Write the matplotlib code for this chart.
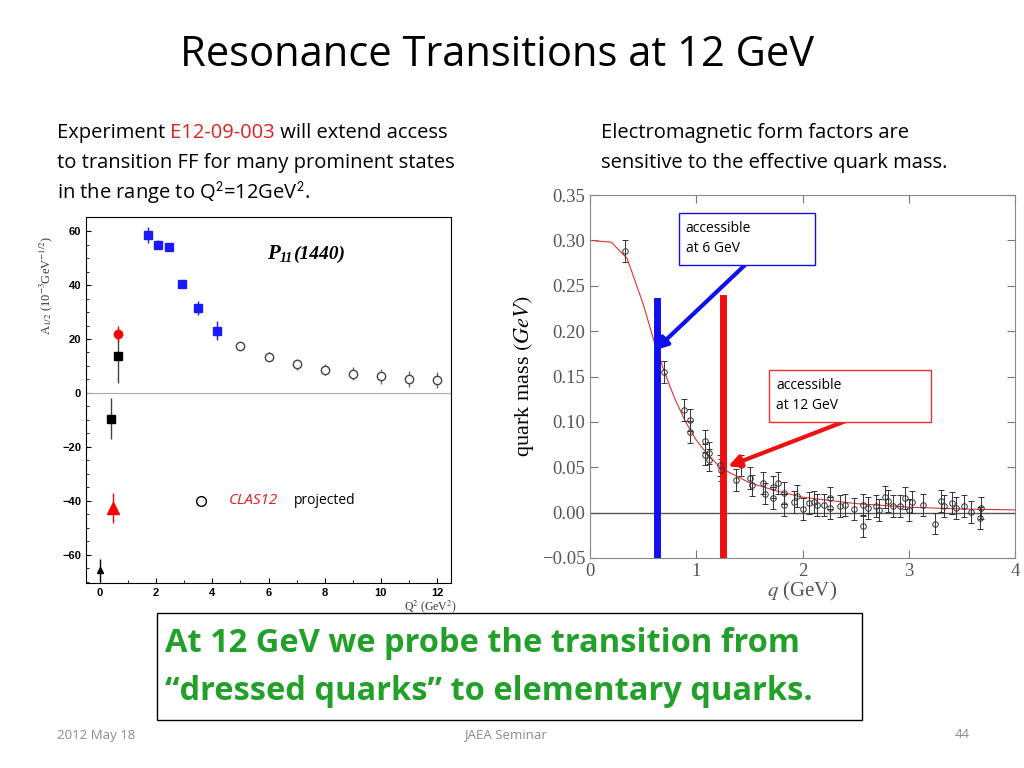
import matplotlib
matplotlib.use("Agg")
import matplotlib.pyplot as plt
from matplotlib.patches import Rectangle

plt.rcParams["mathtext.fontset"] = "stix"

# ---- left panel data ----
blue_q2 = [1.72, 2.05, 2.44, 2.91, 3.48, 4.16]
blue_a = [58.5, 55.0, 54.0, 40.5, 31.5, 23.0]
blue_e = [3.0, 1.5, 1.5, 1.5, 2.5, 3.5]
proj_q2 = [5, 6, 7, 8, 9, 10, 11, 12]
proj_a = [17.5, 13.5, 10.7, 8.7, 7.2, 6.2, 5.3, 4.8]
proj_e = [1.5, 1.8, 2.0, 2.2, 2.5, 2.7, 3.0, 3.0]
redc_q2, redc_a, redc_e = [0.65], [22.0], [3.0]
blks_q2 = [0.65, 0.4]
blks_a = [13.8, -9.5]
blks_e = [10.0, 7.5]
redt_q2, redt_a, redt_e = [0.475], [-42.5], [5.5]
blkt_q2, blkt_a, blkt_e = [0.0], [-65.5], [4.0]

# ---- right panel data ----
curve_q = [0, 0.2, 0.35, 0.5, 0.6, 0.7, 0.8, 0.9, 1.0, 1.1, 1.2, 1.3, 1.5, 1.75, 2.0, 2.5, 3.0, 3.5, 4.0]
curve_m = [0.300, 0.298, 0.280, 0.230, 0.190, 0.155, 0.125, 0.100, 0.080, 0.065, 0.053, 0.045, 0.033, 0.024, 0.017, 0.010, 0.006, 0.004, 0.003]
pts_q = [0.33, 0.70, 0.88, 0.94, 0.94, 1.08, 1.08, 1.12, 1.12, 1.22, 1.23, 1.37, 1.42, 1.51, 1.52, 1.63, 1.65,
         1.72, 1.72, 1.77, 1.83, 1.83, 1.92, 1.95, 2.00, 2.06, 2.11, 2.14, 2.20, 2.26, 2.26, 2.35, 2.40, 2.48,
         2.57, 2.57, 2.62, 2.69, 2.72, 2.78, 2.80, 2.85, 2.92, 2.96, 3.00, 3.03, 3.13, 3.25, 3.30, 3.33, 3.41,
         3.44, 3.52, 3.59, 3.67, 3.68]
pts_m = [0.288, 0.155, 0.113, 0.102, 0.089, 0.079, 0.064, 0.066, 0.058, 0.052, 0.047, 0.036, 0.052, 0.038, 0.030,
         0.033, 0.021, 0.028, 0.016, 0.033, 0.022, 0.008, 0.012, 0.018, 0.004, 0.011, 0.012, 0.008, 0.008, 0.016,
         0.005, 0.007, 0.008, 0.004, 0.008, -0.015, 0.005, 0.007, 0.003, 0.017, 0.013, 0.007, 0.007, 0.016, 0.003,
         0.012, 0.008, -0.012, 0.013, 0.007, 0.011, 0.005, 0.007, 0.001, -0.006, 0.005]
pts_e = [0.012] * len(pts_q)

W, H = 1024, 768
fig = plt.figure(figsize=(10.24, 7.68), dpi=100)
sans = ["Open Sans", "DejaVu Sans"]
renderer = fig.canvas.get_renderer()

def ax_at(x0, y0, x1, y1):
    return fig.add_axes([x0 / W, 1 - y1 / H, (x1 - x0) / W, (y1 - y0) / H])

def chain(x, y, parts, **kw):
    for s, c, dy, f in parts:
        t = fig.text(x / W, 1 - (y + dy) / H, s, color=c, va="center", **kw, **f)
        bb = t.get_window_extent(renderer)
        x += bb.width

fs = 14.5
fig.text(497 / W, 1 - 55 / H, "Resonance Transitions at 12 GeV", ha="center", va="center", fontsize=30, family=sans)
chain(57, 133, [("Experiment ", "black", 0, {}), ("E12-09-003", "#e02020", 0, {}),
                (" will extend access", "black", 0, {})], fontsize=fs, family=sans)
fig.text(57 / W, 1 - 163 / H, "to transition FF for many prominent states", fontsize=fs, family=sans, va="center")
fig.text(57 / W, 1 - 193 / H, r"in the range to Q$^\mathsf{2}$=12GeV$^\mathsf{2}$.", fontsize=fs, family=sans, va="center")
fig.text(601 / W, 1 - 133 / H, "Electromagnetic form factors are", fontsize=fs, family=sans, va="center")
fig.text(601 / W, 1 - 163 / H, "sensitive to the effective quark mass.", fontsize=fs, family=sans, va="center")
fig.text(57 / W, 1 - 735 / H, "2012 May 18", fontsize=9.5, color="#8a8a8a", family=sans, va="center")
fig.text(505 / W, 1 - 735 / H, "JAEA Seminar", fontsize=9.5, color="#8a8a8a", family=sans, va="center", ha="center")
fig.text(955 / W, 1 - 735 / H, "44", fontsize=9.5, color="#8a8a8a", family=sans, va="center")

fig.patches.append(Rectangle((157 / W, 1 - 720 / H), 705 / W, 107 / H, transform=fig.transFigure,
                             facecolor="white", edgecolor="black", lw=1))
fig.text(165 / W, 1 - 644 / H, "At 12 GeV we probe the transition from", fontsize=23.5, weight="bold",
         color="#22a02a", family=sans, va="center")
fig.text(165 / W, 1 - 692 / H, "\u201cdressed quarks\u201d to elementary quarks.", fontsize=23.5, weight="bold",
         color="#22a02a", family=sans, va="center")

# ---- left axes ----
a1 = ax_at(86, 217, 451, 583)
a1.set_xlim(-0.5, 12.5)
a1.set_ylim(-70.4, 65.2)
a1.axhline(0, color="#aaaaaa", lw=0.8)
a1.errorbar(blue_q2, blue_a, yerr=blue_e, fmt="s", color="#1a1aff", ms=6, elinewidth=1)
a1.errorbar(proj_q2, proj_a, yerr=proj_e, fmt="o", mfc="white", mec="#444444", ecolor="#666666", ms=6, elinewidth=1)
a1.errorbar(redc_q2, redc_a, yerr=redc_e, fmt="o", color="red", ms=6, elinewidth=1)
a1.errorbar(blks_q2, blks_a, yerr=blks_e, fmt="s", color="black", ms=6, elinewidth=1, ecolor="#444444")
a1.errorbar(redt_q2, redt_a, yerr=redt_e, fmt="^", color="red", ms=8, elinewidth=1)
a1.errorbar(blkt_q2, blkt_a, yerr=blkt_e, fmt="^", color="black", ms=5, elinewidth=1)
a1.set_xticks([0, 2, 4, 6, 8, 10, 12])
a1.set_yticks([-60, -40, -20, 0, 20, 40, 60])
a1.set_xticks(range(0, 13), minor=True)
a1.set_yticks(range(-70, 65, 5), minor=True)
for lab in a1.get_xticklabels() + a1.get_yticklabels():
    lab.set_fontweight("bold")
    lab.set_fontsize(8)
    lab.set_family("Liberation Sans")
a1.tick_params(direction="in", top=False, right=False, which="both")
serif_bi = dict(family="Liberation Serif", weight="bold", style="italic")
chain(267, 254, [("P", "black", 0, dict(fontsize=15)), ("11", "black", 5, dict(fontsize=10)),
                 ("(1440)", "black", 0, dict(fontsize=14))], **serif_bi)
a1.plot([3.6], [-40], "o", mfc="white", mec="black", ms=7)
a1.text(4.6, -40, "CLAS12", color="#e02020", style="italic", fontsize=11, family=sans, va="center")
a1.text(6.9, -40, "projected", color="black", fontsize=10, family=sans, va="center")
a1.text(-1.9, 40, r"A$_{1/2}$ (10$^{-3}$GeV$^{-1/2}$)", rotation=90, fontsize=9, family="Liberation Serif",
        va="center", ha="center", color="#333333")
a1.text(12.7, -79, r"Q$^2$ (GeV$^2$)", fontsize=8.5, family="Liberation Serif", ha="right", va="center",
        color="#333333")

# ---- right axes ----
a2 = ax_at(590, 195, 1015, 558)
a2.set_xlim(0, 4)
a2.set_ylim(-0.05, 0.35)
a2.axhline(0, color="#555555", lw=1)
a2.plot(curve_q, curve_m, color="#e03030", lw=0.8)
a2.errorbar(pts_q, pts_m, yerr=pts_e, fmt="o", mfc="none", mec="#333333", ecolor="#333333", ms=4,
            elinewidth=0.7, capsize=2, mew=0.7)
a2.plot([0.632, 0.632], [-0.05, 0.233], color="#1010ee", lw=5)
a2.plot([1.255, 1.255], [-0.05, 0.236], color="#ee1010", lw=5)
a2.set_xticks([0, 1, 2, 3, 4])
a2.set_yticks([-0.05, 0, 0.05, 0.10, 0.15, 0.20, 0.25, 0.30, 0.35])
a2.set_yticklabels(["\u22120.05", "0.00", "0.05", "0.10", "0.15", "0.20", "0.25", "0.30", "0.35"])
for lab in a2.get_xticklabels() + a2.get_yticklabels():
    lab.set_family("Liberation Serif")
    lab.set_fontsize(13.5)
    lab.set_color("#555555")
a2.tick_params(direction="in", top=True, right=True, length=6, color="#777777")
for s in a2.spines.values():
    s.set_color("#888888")
a2.set_ylabel(r"quark mass $(GeV)$", family="Liberation Serif", fontsize=16)
a2.set_xlabel(r"$q$ (GeV)", family="Liberation Serif", fontsize=15, color="#555555", labelpad=0)
a2.add_patch(Rectangle((0.84, 0.273), 1.28, 0.057, fc="white", ec="#1010ee", lw=1, zorder=5))
a2.text(0.9, 0.302, "accessible\nat 6 GeV", fontsize=10, family=sans, va="center", zorder=6, linespacing=1.4)
a2.annotate("", xy=(0.613, 0.179), xytext=(1.46, 0.273),
            arrowprops=dict(arrowstyle="-|>", color="#1010ee", lw=3, mutation_scale=18, shrinkA=0, shrinkB=0))
a2.add_patch(Rectangle((1.68, 0.100), 1.53, 0.057, fc="white", ec="#ee3030", lw=1, zorder=5))
a2.text(1.75, 0.129, "accessible\nat 12 GeV", fontsize=10, family=sans, va="center", zorder=6, linespacing=1.4)
a2.annotate("", xy=(1.30, 0.051), xytext=(2.43, 0.102),
            arrowprops=dict(arrowstyle="-|>", color="#ee1010", lw=3, mutation_scale=18, shrinkA=0, shrinkB=0))

fig.savefig("out.png", dpi=100)
